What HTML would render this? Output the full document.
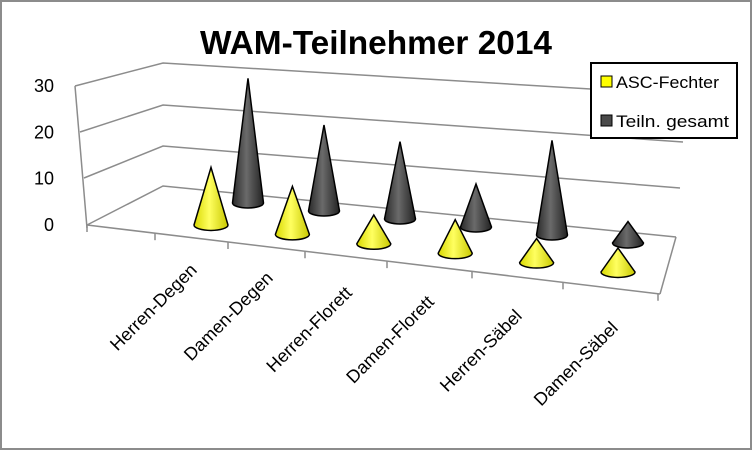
<!DOCTYPE html>
<html><head><meta charset="utf-8"><style>
body{margin:0;background:#fff}
svg{display:block;font-family:"Liberation Sans",sans-serif}
</style></head><body>
<svg id="c" width="753" height="451" viewBox="0 0 753 451">
<defs>
<linearGradient id="gy" x1="0" x2="1"><stop offset="0" stop-color="#d8d800"/><stop offset="0.45" stop-color="#ffff60"/><stop offset="1" stop-color="#c8c800"/></linearGradient>
<linearGradient id="gd" x1="0" x2="1"><stop offset="0" stop-color="#2a2a2a"/><stop offset="0.45" stop-color="#6a6a6a"/><stop offset="1" stop-color="#222"/></linearGradient>
</defs>
<rect x="1" y="1" width="750" height="448" fill="#fff" stroke="#8c8c8c" stroke-width="2"/>
<text x="376" y="54" text-anchor="middle" font-size="33" font-weight="bold" textLength="352" lengthAdjust="spacingAndGlyphs">WAM-Teilnehmer 2014</text>
<g id="grid" stroke="#8c8c8c" stroke-width="1.5" fill="none">
<polyline points="75,86 163,63 690,95"/>
<polyline points="80,132 163,105 683,142"/>
<polyline points="84,178 163,146 680,188"/>
<polyline points="87,225 163,186 676,237"/>
<line x1="75" y1="86" x2="87" y2="228"/>
<line x1="87" y1="225" x2="660" y2="294"/>
<line x1="660" y1="294" x2="676" y2="237"/>
</g>
<g id="yt" font-size="18" fill="#000" text-anchor="end"></g>
<g id="ticks" stroke="#8c8c8c" stroke-width="1.5"></g>
<g id="marks"></g>
<g id="xl" font-size="18"></g>
<g>
<rect x="591" y="63" width="146" height="75" fill="#fff" stroke="#000" stroke-width="2"/>
<rect x="601" y="76" width="11" height="11" fill="#ffff00" stroke="#000"/>
<text x="616" y="88" font-size="17" textLength="103" lengthAdjust="spacingAndGlyphs">ASC-Fechter</text>
<rect x="601" y="115" width="11" height="11" fill="#4a4a4a" stroke="#000"/>
<text x="616" y="127" font-size="17" textLength="113" lengthAdjust="spacingAndGlyphs">Teiln. gesamt</text>
</g>
</svg>
<script>
const categories=["Herren-Degen","Damen-Degen","Herren-Florett","Damen-Florett","Herren-Säbel","Damen-Säbel"];
const ascValues=[12,10,6,7,5,5];
const totalValues=[29,20,18,10,22,5];
const yTicks=[0,10,20,30];
const NS="http://www.w3.org/2000/svg";
function mk(t,a,p){const e=document.createElementNS(NS,t);for(const k in a)e.setAttribute(k,a[k]);p.appendChild(e);return e;}
const yt=document.getElementById('yt');
function yLeft(v){return 225-v*4.63;}
yTicks.forEach(v=>{const t=mk('text',{x:54,y:yLeft(v)+6},yt);t.textContent=v;

});
const n=categories.length;
const tk=document.getElementById('ticks');
function tickX(i){return 87+i*80+i*i*0.55-(i===n?2:0)+(i>0&&i<n?-12+i*0.5:0);}
const tickXs=[87,155,228,305,387,472,563,658];
for(let i=0;i<=n+1;i++){const x=tickXs[i];const y=225+(x-87)*69/573;
const l=mk('line',{x1:x,y1:y,x2:x,y2:y+7},tk);

}
function frontX(i){return 211+i*81.4;} function frontY(i){return 225+i*9.4;}
function backX(i){return 248+i*76;} function backY(i){return 203+i*8;}
function cone(cx,by,h,rx,fill,name){const g=mk('g',{},document.getElementById('marks'));


const ry=rx*0.32;
mk('path',{d:`M${cx-rx},${by} L${cx},${by-h} L${cx+rx},${by} A${rx},${ry} 0 0 1 ${cx-rx},${by} Z`,fill:fill,stroke:'#000','stroke-width':1.5},g);}
for(let i=0;i<n;i++){
cone(backX(i),backY(i),totalValues[i]*4.3,15.5,'url(#gd)','cone-total-'+i);
cone(frontX(i),frontY(i),ascValues[i]*4.8,17,'url(#gy)','cone-asc-'+i);}
const xl=document.getElementById('xl');
const lx=[198,274,353,435,523,619],ly=[271,279,294,303,317,329];
categories.forEach((c,i)=>{const t=mk('text',{x:lx[i],y:ly[i],'text-anchor':'end',transform:`rotate(-45 ${lx[i]} ${ly[i]})`},xl);t.textContent=c;

});
</script>
</body></html>
